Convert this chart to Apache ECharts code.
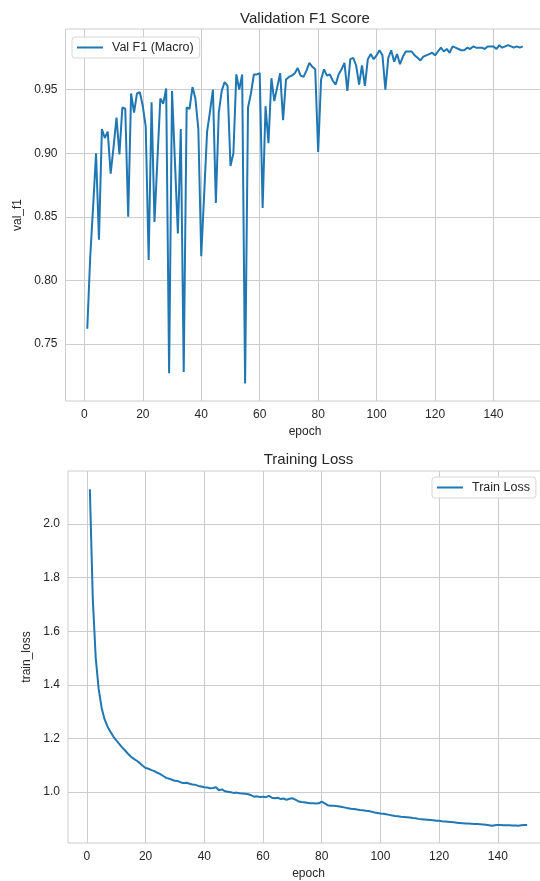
<!DOCTYPE html>
<html>
<head>
<meta charset="utf-8">
<script src="https://cdn.jsdelivr.net/npm/echarts@6/dist/echarts.min.js"></script>
<style>
html,body{margin:0;padding:0;background:#fff;}
#c{width:540px;height:881px;}
</style>
</head>
<body>
<div id="c"></div>
<script>
const valF1 = [
0.762,0.818,0.858,0.900,0.832,0.919,0.912,0.917,0.884,0.905,
0.928,0.899,0.936,0.935,0.850,0.947,0.932,0.947,0.948,0.937,
0.921,0.816,0.940,0.846,0.895,0.943,0.939,0.951,0.727,0.949,
0.893,0.837,0.919,0.728,0.936,0.935,0.952,0.943,0.919,0.819,
0.868,0.917,0.933,0.950,0.861,0.932,0.949,0.956,0.953,0.890,
0.900,0.962,0.950,0.962,0.719,0.936,0.947,0.962,0.962,0.963,
0.857,0.937,0.908,0.959,0.941,0.952,0.963,0.926,0.958,0.960,
0.961,0.963,0.967,0.961,0.960,0.965,0.971,0.968,0.966,0.901,
0.958,0.966,0.961,0.962,0.957,0.954,0.962,0.966,0.971,0.949,
0.974,0.975,0.969,0.954,0.969,0.953,0.974,0.978,0.974,0.977,
0.981,0.977,0.950,0.975,0.981,0.972,0.978,0.970,0.976,0.980,
0.980,0.980,0.977,0.975,0.973,0.976,0.977,0.978,0.979,0.977,
0.980,0.983,0.980,0.982,0.979,0.984,0.983,0.982,0.981,0.981,
0.983,0.982,0.984,0.983,0.983,0.983,0.982,0.984,0.984,0.984,
0.982,0.985,0.983,0.984,0.985,0.984,0.983,0.984,0.983,0.984
];
const trainLoss = [
2.130,1.720,1.500,1.385,1.315,1.272,1.245,1.225,1.207,1.193,
1.180,1.167,1.155,1.143,1.132,1.124,1.117,1.108,1.098,1.090,
1.087,1.082,1.078,1.072,1.067,1.060,1.053,1.050,1.046,1.042,
1.041,1.036,1.034,1.035,1.031,1.028,1.027,1.023,1.021,1.018,
1.017,1.014,1.015,1.018,1.007,1.010,1.003,1.001,0.999,0.997,
0.998,0.996,0.995,0.994,0.992,0.988,0.983,0.984,0.982,0.983,
0.981,0.986,0.979,0.977,0.979,0.974,0.976,0.971,0.975,0.977,
0.972,0.966,0.963,0.962,0.960,0.958,0.958,0.957,0.958,0.964,
0.958,0.951,0.949,0.949,0.948,0.946,0.944,0.942,0.940,0.938,
0.937,0.935,0.933,0.932,0.930,0.929,0.927,0.924,0.922,0.920,
0.919,0.917,0.915,0.913,0.911,0.910,0.908,0.907,0.906,0.905,
0.903,0.902,0.900,0.899,0.898,0.897,0.896,0.895,0.893,0.893,
0.891,0.890,0.889,0.888,0.887,0.886,0.885,0.884,0.883,0.883,
0.882,0.881,0.881,0.880,0.879,0.878,0.876,0.874,0.876,0.877,
0.877,0.876,0.876,0.876,0.875,0.875,0.874,0.876,0.877,0.877
];
const epochs = valF1.map((_, i) => i + 1);
const xTicks = [0, 20, 40, 60, 80, 100, 120, 140];
const f1Ticks = [0.75, 0.80, 0.85, 0.90, 0.95];
const lossTicks = [1.0, 1.2, 1.4, 1.6, 1.8, 2.0];
const titles = ['Validation F1 Score', 'Training Loss'];
const seriesNames = ['Val F1 (Macro)', 'Train Loss'];
const yNames = ['val_f1', 'train_loss'];
const xName = 'epoch';

const FONT = '"Liberation Sans", Arial, sans-serif';
const TXT = '#262626';
const GRID = '#cccccc';
const BLUE = '#1f77b4';

function xAxisCfg(gi) {
  return {
    type: 'value', gridIndex: gi, min: -6.45, max: 157.45,
    name: xName, nameLocation: 'middle', nameGap: 25,
    nameTextStyle: {fontFamily: FONT, fontSize: 12, color: TXT},
    axisLine: {show: false}, axisTick: {show: false, customValues: xTicks},
    axisLabel: {customValues: xTicks, fontFamily: FONT, fontSize: 12, color: TXT, margin: 8},
    splitLine: {show: true, lineStyle: {color: GRID, width: 1}}
  };
}
function yAxisCfg(gi, min, max, ticks, dec, gap) {
  return {
    type: 'value', gridIndex: gi, min: min, max: max,
    name: yNames[gi], nameLocation: 'middle', nameGap: gap,
    nameTextStyle: {fontFamily: FONT, fontSize: 12, color: TXT},
    axisLine: {show: false}, axisTick: {show: false, customValues: ticks},
    axisLabel: {customValues: ticks, fontFamily: FONT, fontSize: 12, color: TXT, margin: 8,
      formatter: v => Number(v).toFixed(dec)},
    splitLine: {show: true, lineStyle: {color: GRID, width: 1}}
  };
}
const legendCommon = {
  orient: 'horizontal', itemWidth: 26, itemHeight: 2, icon: 'rect',
  borderColor: '#d6d6d6', borderWidth: 1, borderRadius: 3,
  backgroundColor: 'rgba(255,255,255,0.85)', padding: [4, 6, 4, 5],
  textStyle: {fontFamily: FONT, fontSize: 12.5, color: TXT, padding: [0, 0, 0, 4], lineHeight: 13},
  selectedMode: false
};

const chart = echarts.init(document.getElementById('c'), null, {renderer: 'canvas'});
chart.setOption({
  backgroundColor: '#ffffff',
  animation: false,
  title: [
    {text: titles[0], left: 305, top: 11, textAlign: 'center', padding: 0,
     textStyle: {fontFamily: FONT, fontSize: 15, fontWeight: 'normal', color: TXT}},
    {text: titles[1], left: 308.5, top: 452, textAlign: 'center', padding: 0,
     textStyle: {fontFamily: FONT, fontSize: 15, fontWeight: 'normal', color: TXT}}
  ],
  legend: [
    Object.assign({data: [seriesNames[0]], left: 72, top: 37}, legendCommon),
    Object.assign({data: [seriesNames[1]], left: 432, top: 477}, legendCommon)
  ],
  grid: [
    {left: 65.5, top: 29, width: 479, height: 372, outerBoundsMode: 'none', containLabel: false,
     show: true, borderColor: GRID, borderWidth: 1, backgroundColor: 'transparent'},
    {left: 68, top: 471, width: 481, height: 372, outerBoundsMode: 'none', containLabel: false,
     show: true, borderColor: GRID, borderWidth: 1, backgroundColor: 'transparent'}
  ],
  xAxis: [xAxisCfg(0), xAxisCfg(1)],
  yAxis: [
    yAxisCfg(0, 0.7052, 0.9977, f1Ticks, 2, 41),
    yAxisCfg(1, 0.81, 2.198, lossTicks, 1, 32)
  ],
  series: [
    {name: seriesNames[0], type: 'line', xAxisIndex: 0, yAxisIndex: 0, symbol: 'none',
     lineStyle: {color: BLUE, width: 2}, itemStyle: {color: BLUE},
     data: epochs.map((e, i) => [e, valF1[i]])},
    {name: seriesNames[1], type: 'line', xAxisIndex: 1, yAxisIndex: 1, symbol: 'none',
     lineStyle: {color: BLUE, width: 2}, itemStyle: {color: BLUE},
     data: epochs.map((e, i) => [e, trainLoss[i]])}
  ]
});
</script>
</body>
</html>
